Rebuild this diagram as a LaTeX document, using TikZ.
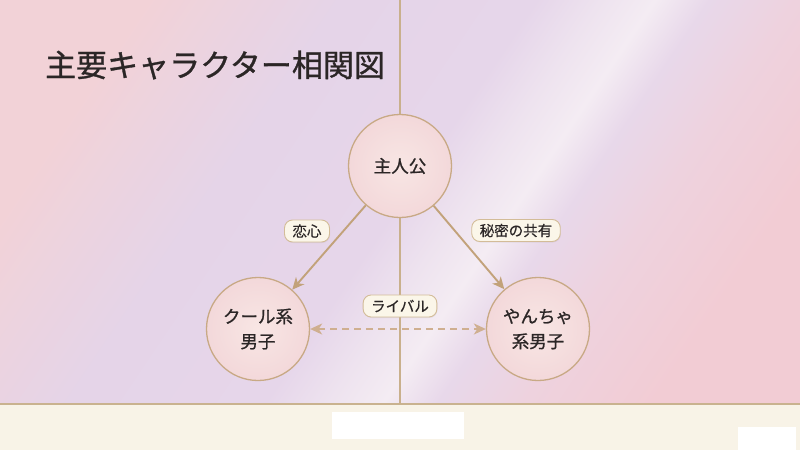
\documentclass[tikz,border=0pt]{standalone}
\usepackage{fontspec}
\setmainfont{Noto Sans CJK JP}
\newfontfamily\cjkmed[FakeBold=1.0]{Noto Sans CJK JP}
\newfontfamily\cjklab[FakeBold=0.5]{Noto Sans CJK JP}
\usetikzlibrary{arrows.meta,shadows}
\definecolor{bgA}{HTML}{F2D2D7}
\definecolor{bgA2}{HTML}{ECD3DF}
\definecolor{bgB}{HTML}{E5D4E8}
\definecolor{bgB2}{HTML}{E6D6EA}
\definecolor{bgC}{HTML}{EEE3EF}
\definecolor{bgC2}{HTML}{F4ECF3}
\definecolor{bgD}{HTML}{E8D8EA}
\definecolor{bgE}{HTML}{EED2DE}
\definecolor{bgG}{HTML}{F2CCD4}
\definecolor{tanline}{HTML}{C9B08C}
\definecolor{arrowc}{HTML}{C2A27A}
\definecolor{dashc}{HTML}{CFAF90}
\definecolor{circb}{HTML}{C8A985}
\definecolor{circin}{HTML}{F8E6E4}
\definecolor{circout}{HTML}{F3D8DA}
\definecolor{labb}{HTML}{D3BC98}
\definecolor{labf}{HTML}{FBF6E9}
\definecolor{txt}{HTML}{2B2626}
\definecolor{bandc}{HTML}{F8F3E7}
\definecolor{bandl}{HTML}{C9B28F}
\pgfdeclarehorizontalshading{bgsh}{100bp}{color(0bp)=(bgA); color(32bp)=(bgA); color(36bp)=(bgA2); color(41bp)=(bgB); color(50bp)=(bgB2); color(53bp)=(bgC); color(55.5bp)=(bgC2); color(58bp)=(bgD); color(62bp)=(bgE); color(68bp)=(bgG); color(100bp)=(bgG)}
\begin{document}
\begin{tikzpicture}[x=1pt,y=-1pt,
  tipA/.tip={Stealth[length=12pt,width=11pt,inset=3.5pt]},
  person/.style={circle, draw=circb, line width=1.3pt, inner color=circin, outer color=circout,
    minimum size=103pt, inner sep=0pt, align=center, text=txt,
    font=\cjkmed\fontsize{17.5}{25}\selectfont},
  lab/.style={draw=labb, line width=0.9pt, fill=labf, rounded corners=8pt,
    inner xsep=8pt, inner ysep=0pt, minimum height=22pt, text=txt,
    font=\cjklab\fontsize{14.5}{16}\selectfont,
    drop shadow={opacity=0.12, shadow xshift=0.6pt, shadow yshift=-1pt}},
  rel/.style={draw=arrowc, line width=1.9pt, -tipA},
  rival/.style={draw=dashc, line width=1.9pt, dash pattern=on 7pt off 5pt, tipA-tipA}
]
\useasboundingbox (0,0) rectangle (800,450);
% background
\begin{scope}
\clip (0,0) rectangle (800,404);
\shade[shading=bgsh, shading angle=-34] (-50,-248) rectangle (850,652);
\end{scope}
% bottom band
\fill[bandc] (0,404) rectangle (800,450);
\draw[bandl, line width=1.3pt] (0,404) -- (800,404);
\fill[white] (332,412) rectangle (464,439);
\fill[white] (738,427) rectangle (796,450);
% vertical axis line
\coordinate (vtop) at (400,0);
\coordinate (vbot) at (400,404);
\draw[tanline, line width=1.4pt] (vtop) -- (vbot);
% title
\node[anchor=west, inner sep=0pt, text=txt, font=\cjkmed\fontsize{31}{34}\selectfont] (title) at (45,65) {主要キャラクター相関図};
% characters
\node[person] (hero) at (400,166) {主人公};
\node[person] (cool) at (258,329) {クール系\\男子};
\node[person] (yan) at (538,329) {やんちゃ\\系男子};
% relations
\draw[rel] (hero) -- (cool);
\draw[rel] (hero) -- (yan);
\draw[rival] (cool) -- (yan);
% labels
\node[lab] (l1) at (307,231) {恋心};
\node[lab] (l2) at (516,230.5) {秘密の共有};
\node[lab] (l3) at (400,306) {ライバル};
\end{tikzpicture}
\end{document}
